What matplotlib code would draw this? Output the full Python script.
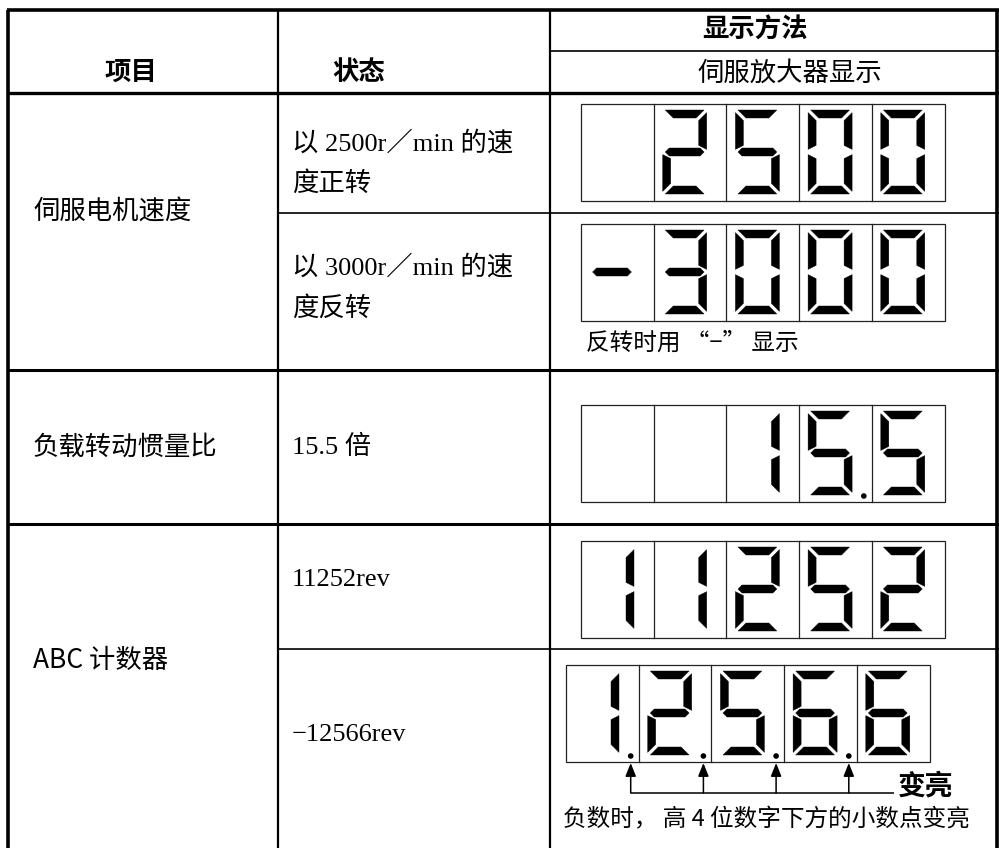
import matplotlib
matplotlib.use("Agg")
import matplotlib.pyplot as plt
from matplotlib.patches import Polygon, Rectangle, Circle

CJK = ['Noto Sans CJK SC', 'DejaVu Sans']
MIX = ['Liberation Serif', 'Noto Sans CJK SC', 'DejaVu Sans']

# ---------------- data ----------------
header_item = "项目"
header_state = "状态"
header_display = "显示方法"
header_sub = "伺服放大器显示"
items = ["伺服电机速度", "负载转动惯量比", "ABC 计数器"]
states = [["以 2500r／min 的速", "度正转"],
          ["以 3000r／min 的速", "度反转"],
          ["15.5 倍"],
          ["11252rev"],
          ["−12566rev"]]
displays = ["2500", "-3000", "15.5", "11252", "1.2.5.6.6"]
note_reverse = "反转时用 “−” 显示"
note_bright = "变亮"
note_negative = "负数时， 高 4 位数字下方的小数点变亮"

# ---------------- layout ----------------
W_IMG, H_IMG = 999, 848
fig = plt.figure(figsize=(W_IMG / 100, H_IMG / 100), dpi=100)
ax = fig.add_axes([0, 0, 1, 1])
ax.set_xlim(0, W_IMG)
ax.set_ylim(H_IMG, 0)
ax.axis('off')

xL, xC1, xC2, xR = 8, 278, 550, 997
yT, ySub, yH = 10, 51, 93
row_lines = [(213, 'thin'), (370, 'thick'), (524, 'thick'), (649, 'thin')]
yB = H_IMG

def hline(y, x0, x1, lw):
    ax.plot([x0, x1], [y, y], color='black', lw=lw, solid_capstyle='butt')

def vline(x, y0, y1, lw):
    ax.plot([x, x], [y0, y1], color='black', lw=lw, solid_capstyle='butt')

# table grid
hline(yT, xL - 1, W_IMG, 2.6)
hline(ySub, xC2, W_IMG, 1.2)
hline(yH, xL - 1, W_IMG, 2.4)
for y, kind in row_lines:
    if kind == 'thick':
        hline(y, xL - 1, W_IMG, 2.2)
    else:
        hline(y, xC1, W_IMG, 1.2)
vline(xL, yT, yB, 2.6)
vline(xC1, yT, yB, 1.6)
vline(xC2, yT, yB, 1.6)
vline(xR, yT, yB, 2.6)

# headers
ax.text(131, 72, header_item, family=CJK, fontsize=19, fontweight='bold', ha='center', va='center')
ax.text(359, 72, header_state, family=CJK, fontsize=19, fontweight='bold', ha='center', va='center')
ax.text(755, 30, header_display, family=CJK, fontsize=19, fontweight='bold', ha='center', va='center')
ax.text(790, 73, header_sub, family=CJK, fontsize=19, ha='center', va='center')

# item column
item_y = [212, 447, 660]
for txt, y in zip(items, item_y):
    ax.text(33, y, txt, family=CJK, fontsize=19, ha='left', va='center')

# state column
state_y = [[143, 183], [267, 308], [447], [580], [735]]
for lines, ys in zip(states, state_y):
    for ln, y in zip(lines, ys):
        ax.text(292, y, ln, family=MIX, fontsize=19, ha='left', va='center')

# ---------------- seven segment displays ----------------
SEGS = {'0': 'abcdef', '1': 'bc', '2': 'abged', '3': 'abgcd', '4': 'fgbc',
        '5': 'afgcd', '6': 'afgedc', '7': 'abc', '8': 'abcdefg',
        '9': 'abcdfg', '-': 'g', ' ': ''}

def seg_polys(x0, y0, W, H, t, g):
    m = H / 2
    P = {}
    P['a'] = [(g, 0), (W - g, 0), (W - g - t, t), (g + t, t)]
    P['d'] = [(g, H), (W - g, H), (W - g - t, H - t), (g + t, H - t)]
    P['f'] = [(0, g), (t, g + t), (t, m - g - t / 2), (0, m - g)]
    P['b'] = [(W, g), (W - t, g + t), (W - t, m - g - t / 2), (W, m - g)]
    P['e'] = [(0, m + g), (t, m + g + t / 2), (t, H - g - t), (0, H - g)]
    P['c'] = [(W, m + g), (W - t, m + g + t / 2), (W - t, H - g - t), (W, H - g)]
    P['g'] = [(g, m), (g + t / 2, m - t / 2), (W - g - t / 2, m - t / 2),
              (W - g, m), (W - g - t / 2, m + t / 2), (g + t / 2, m + t / 2)]
    return {k: [(x0 + px, y0 + py) for px, py in v] for k, v in P.items()}

def parse(s, n=5):
    cells = []
    for ch in s:
        if ch == '.':
            cells[-1] = (cells[-1][0], True)
        else:
            cells.append((ch, False))
    return [(' ', False)] * (n - len(cells)) + cells

box_x = [581, 581, 581, 581, 566]
box_y = [104, 224, 405, 541, 665]
CW, BH = 72.7, 97
dot_positions = []
for r, (s, bx, by) in enumerate(zip(displays, box_x, box_y)):
    cells = parse(s)
    ax.add_patch(Rectangle((bx, by), CW * len(cells), BH, fill=False,
                           ec='#222222', lw=0.9))
    for i in range(1, len(cells)):
        ax.plot([bx + i * CW, bx + i * CW], [by, by + BH], color='#222222', lw=0.9)
    for i, (ch, dp) in enumerate(cells):
        cx = bx + i * CW
        polys = seg_polys(cx + 9, by + 6, 44, 84, 8, 2.6)
        for sname in SEGS[ch]:
            ax.add_patch(Polygon(polys[sname], closed=True, fc='black', ec='black', lw=0.3))
        if dp:
            dx, dy = cx + CW - 8, by + BH - 6
            ax.add_patch(Circle((dx, dy), 2.8, fc='black', ec='none'))
            if r == len(displays) - 1:
                dot_positions.append(dx)

# notes
ax.text(586, 343, note_reverse, family=CJK, fontsize=17, ha='left', va='center')

y_arrow_base = 793
for dx in dot_positions:
    ax.annotate('', xy=(dx, box_y[-1] + BH + 1), xytext=(dx, y_arrow_base),
                arrowprops=dict(arrowstyle='-|>,head_length=0.8,head_width=0.32',
                                color='black', lw=1.1, shrinkA=0, shrinkB=0))
hline(y_arrow_base, dot_positions[0], 894, 1.1)
ax.text(898, 787, note_bright, family=CJK, fontsize=20, fontweight='bold', ha='left', va='center')
ax.text(563, 820, note_negative, family=CJK, fontsize=17, ha='left', va='center')

fig.savefig('out.png', dpi=100)
